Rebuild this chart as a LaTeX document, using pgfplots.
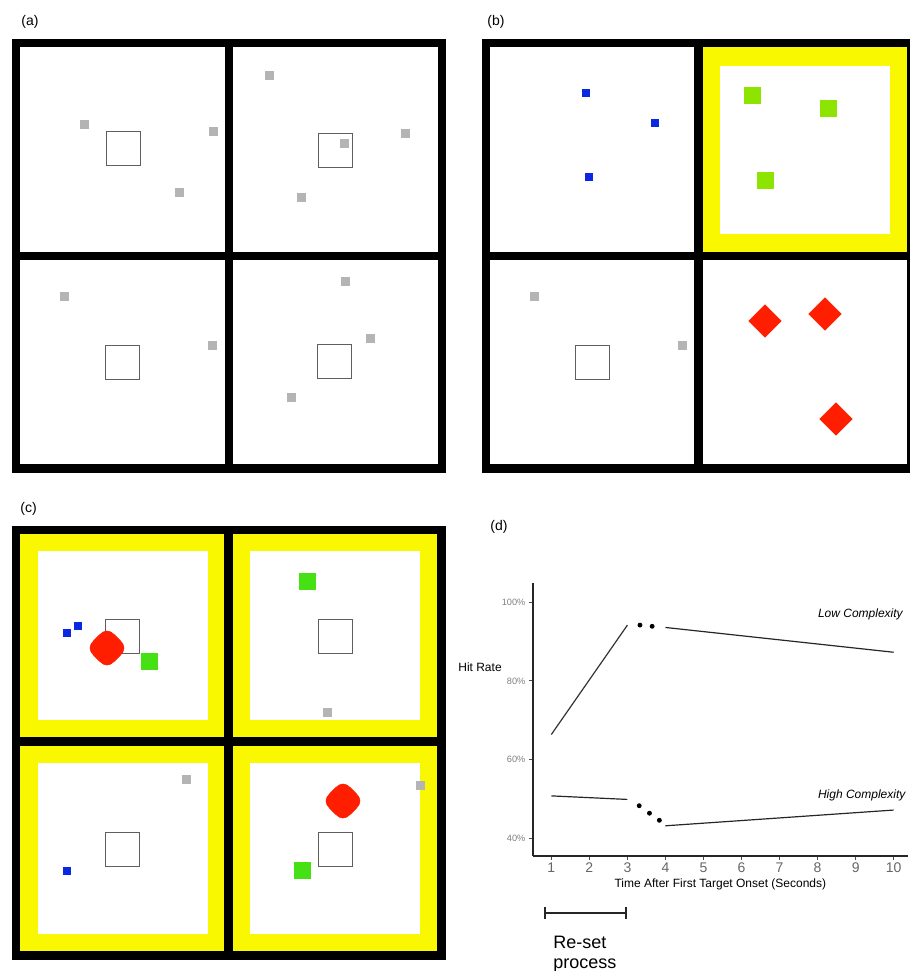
\documentclass[border=0pt]{standalone}
\usepackage{fontspec}
\setmainfont{Liberation Sans}
\usepackage{pgfplots}
\pgfplotsset{compat=1.18}
\definecolor{grayc}{RGB}{180,180,180}
\definecolor{blueS}{RGB}{10,40,225}
\definecolor{limeS}{RGB}{140,228,0}
\definecolor{greenS}{RGB}{70,225,20}
\definecolor{redS}{RGB}{255,30,0}
\definecolor{yelS}{RGB}{250,248,0}
\definecolor{outl}{RGB}{95,95,95}
\pgfdeclareplotmark{rdiamond}{%
  \pgfpathmoveto{\pgfqpoint{0.5\pgfplotmarksize}{0.5\pgfplotmarksize}}%
  \pgfpathlineto{\pgfqpoint{0.65\pgfplotmarksize}{0.35\pgfplotmarksize}}%
  \pgfpathquadraticcurveto{\pgfqpoint{\pgfplotmarksize}{0pt}}{\pgfqpoint{0.65\pgfplotmarksize}{-0.35\pgfplotmarksize}}%
  \pgfpathlineto{\pgfqpoint{0.35\pgfplotmarksize}{-0.65\pgfplotmarksize}}%
  \pgfpathquadraticcurveto{\pgfqpoint{0pt}{-\pgfplotmarksize}}{\pgfqpoint{-0.35\pgfplotmarksize}{-0.65\pgfplotmarksize}}%
  \pgfpathlineto{\pgfqpoint{-0.65\pgfplotmarksize}{-0.35\pgfplotmarksize}}%
  \pgfpathquadraticcurveto{\pgfqpoint{-\pgfplotmarksize}{0pt}}{\pgfqpoint{-0.65\pgfplotmarksize}{0.35\pgfplotmarksize}}%
  \pgfpathlineto{\pgfqpoint{-0.35\pgfplotmarksize}{0.65\pgfplotmarksize}}%
  \pgfpathquadraticcurveto{\pgfqpoint{0pt}{\pgfplotmarksize}}{\pgfqpoint{0.35\pgfplotmarksize}{0.65\pgfplotmarksize}}%
  \pgfpathclose
  \pgfusepathqfillstroke}
\newcommand{\rect}[5]{\addplot[fill=#5, draw=none, forget plot] coordinates {(#1,#2) (#3,#2) (#3,#4) (#1,#4)};}
\begin{document}
\begin{tikzpicture}
\useasboundingbox (0,0) rectangle (455pt,485.5pt);
\clip (0,0) rectangle (455pt,485.5pt);
\begin{axis}[name=canvas, at={(0,0)}, anchor=south west, scale only axis,
  width=455pt, height=485.5pt, xmin=0, xmax=910, ymin=0, ymax=971,
  y dir=reverse, axis lines=none, clip=false]
% ---------- panel (a)
\rect{12}{39}{446}{473}{black}
\rect{20}{47}{225}{252}{white}
\rect{233}{47}{438}{252}{white}
\rect{20}{260}{225}{464}{white}
\rect{233}{260}{438}{464}{white}
\addplot[only marks, mark=square, mark size=8.5pt, color=outl, mark options={line width=0.5pt}]
  coordinates {(123,148) (335,150) (122,362) (334,361)};
\addplot[only marks, mark=square*, mark size=2pt, color=grayc, mark options={line width=0.3pt}]
  coordinates {(84,124) (213,131) (179,192) (269,75) (405,133) (344,143) (301,197)
  (64,296) (212,345) (345,281) (370,338) (291,397)};
% ---------- panel (b)
\rect{482}{39}{915}{473}{black}
\rect{490}{47}{694}{252}{white}
\rect{703}{47}{907}{252}{yelS}
\rect{720}{66}{890}{234}{white}
\rect{490}{260}{694}{464}{white}
\rect{703}{260}{907}{464}{white}
\addplot[only marks, mark=square*, mark size=1.8pt, color=blueS, mark options={line width=0.3pt}]
  coordinates {(586,93) (655,123) (589,177)};
\addplot[only marks, mark=square*, mark size=4.05pt, color=limeS, mark options={line width=0.3pt}]
  coordinates {(752,95) (828,108) (765,180)};
\addplot[only marks, mark=square, mark size=8.5pt, color=outl, mark options={line width=0.5pt}]
  coordinates {(592,362)};
\addplot[only marks, mark=square*, mark size=2pt, color=grayc, mark options={line width=0.3pt}]
  coordinates {(534,296) (682,345)};
\addplot[only marks, mark=square*, mark size=5.7pt, color=redS, mark options={rotate=45, line width=0.3pt}]
  coordinates {(765,321) (825,314) (836,419)};
% ---------- panel (c)
\rect{12}{526}{446}{960}{black}
\rect{20}{534}{224}{737}{yelS}
\rect{233}{534}{437}{737}{yelS}
\rect{20}{746}{224}{951}{yelS}
\rect{233}{746}{437}{951}{yelS}
\rect{38}{551}{208}{720}{white}
\rect{250}{551}{420}{720}{white}
\rect{38}{763}{208}{934}{white}
\rect{250}{763}{420}{934}{white}
\addplot[only marks, mark=square, mark size=8.5pt, color=outl, mark options={line width=0.5pt}]
  coordinates {(122,636) (335,636) (122,849) (335,849)};
\addplot[only marks, mark=square*, mark size=1.8pt, color=blueS, mark options={line width=0.3pt}]
  coordinates {(67,633) (78,626) (67,871)};
\addplot[only marks, mark=square*, mark size=2pt, color=grayc, mark options={line width=0.3pt}]
  coordinates {(327,712) (186,779) (420,785)};
\addplot[only marks, mark=square*, mark size=4.05pt, color=greenS, mark options={line width=0.3pt}]
  coordinates {(149,661) (307,581) (302,870)};
\addplot[only marks, mark=rdiamond, mark size=10.3pt, color=redS, mark options={line width=0.3pt}]
  coordinates {(107,648) (343,801)};
% ---------- labels
\node[anchor=west, inner sep=0, font=\fontsize{7}{8}\selectfont] at (axis cs:21,22) {(a)};
\node[anchor=west, inner sep=0, font=\fontsize{7}{8}\selectfont] at (axis cs:487,22) {(b)};
\node[anchor=west, inner sep=0, font=\fontsize{7}{8}\selectfont] at (axis cs:20,509) {(c)};
\node[anchor=west, inner sep=0, font=\fontsize{7}{8}\selectfont] at (axis cs:490,527) {(d)};
\end{axis}
% ---------- panel (d)
\begin{axis}[at={(266.35pt,57.65pt)}, anchor=south west, scale only axis,
  width=187.65pt, height=136.35pt,
  xmin=0.51, xmax=10.376, ymin=35.6, ymax=104.9,
  axis lines=left, axis line style={-, line width=1pt, black!85},
  clip=false,
  /pgf/number format/assume math mode=true,
  xtick={1,2,3,4,5,6,7,8,9,10},
  ytick={40,60,80,100}, yticklabels={40\%,60\%,80\%,100\%},
  tick align=outside, major tick length=2pt,
  tick style={line width=0.5pt, black!70},
  xticklabel style={font=\fontsize{7}{8}\selectfont, text=black!60, inner sep=1.5pt},
  yticklabel style={font=\fontsize{4.6}{5}\selectfont, text=black!50, inner sep=1.5pt},
  xlabel={Time After First Target Onset (Seconds)},
  xlabel style={font=\fontsize{6}{7}\selectfont, inner sep=1pt},
]
\addplot[line width=0.6pt, black!80] coordinates {(1,66.4) (3,94.2)};
\addplot[line width=0.6pt, black!85] coordinates {(4,93.6) (10,87.3)};
\addplot[only marks, mark=*, mark size=1pt, black] coordinates {(3.33,94.2) (3.65,93.9)};
\addplot[line width=0.6pt, black!85] coordinates {(1,50.8) (3,49.9)};
\addplot[line width=0.6pt, black!85] coordinates {(4,43.2) (10,47.2)};
\addplot[only marks, mark=*, mark size=1pt, black] coordinates {(3.31,48.3) (3.58,46.4) (3.84,44.6)};
% re-set bracket
\addplot[line width=1pt, black!85] coordinates {(0.83,21) (2.95,21)};
\addplot[line width=1pt, black!85] coordinates {(0.83,22.6) (0.83,19.4)};
\addplot[line width=1pt, black!85] coordinates {(2.95,22.6) (2.95,19.4)};
\node[anchor=west, inner sep=0, font=\fontsize{6}{7}\selectfont\itshape] at (axis cs:8.0,97.0) {Low Complexity};
\node[anchor=west, inner sep=0, font=\fontsize{6}{7}\selectfont\itshape] at (axis cs:8.0,51.0) {High Complexity};
\node[inner sep=0, font=\fontsize{6}{7}\selectfont] at (axis cs:-0.875,83.55) {Hit Rate};
\node[anchor=base west, inner sep=0, font=\fontsize{9}{10}\selectfont] at (axis cs:1.04,12.0) {Re-set};
\node[anchor=base west, inner sep=0, font=\fontsize{9}{10}\selectfont] at (axis cs:1.04,6.9) {process};
\end{axis}
\end{tikzpicture}
\end{document}
